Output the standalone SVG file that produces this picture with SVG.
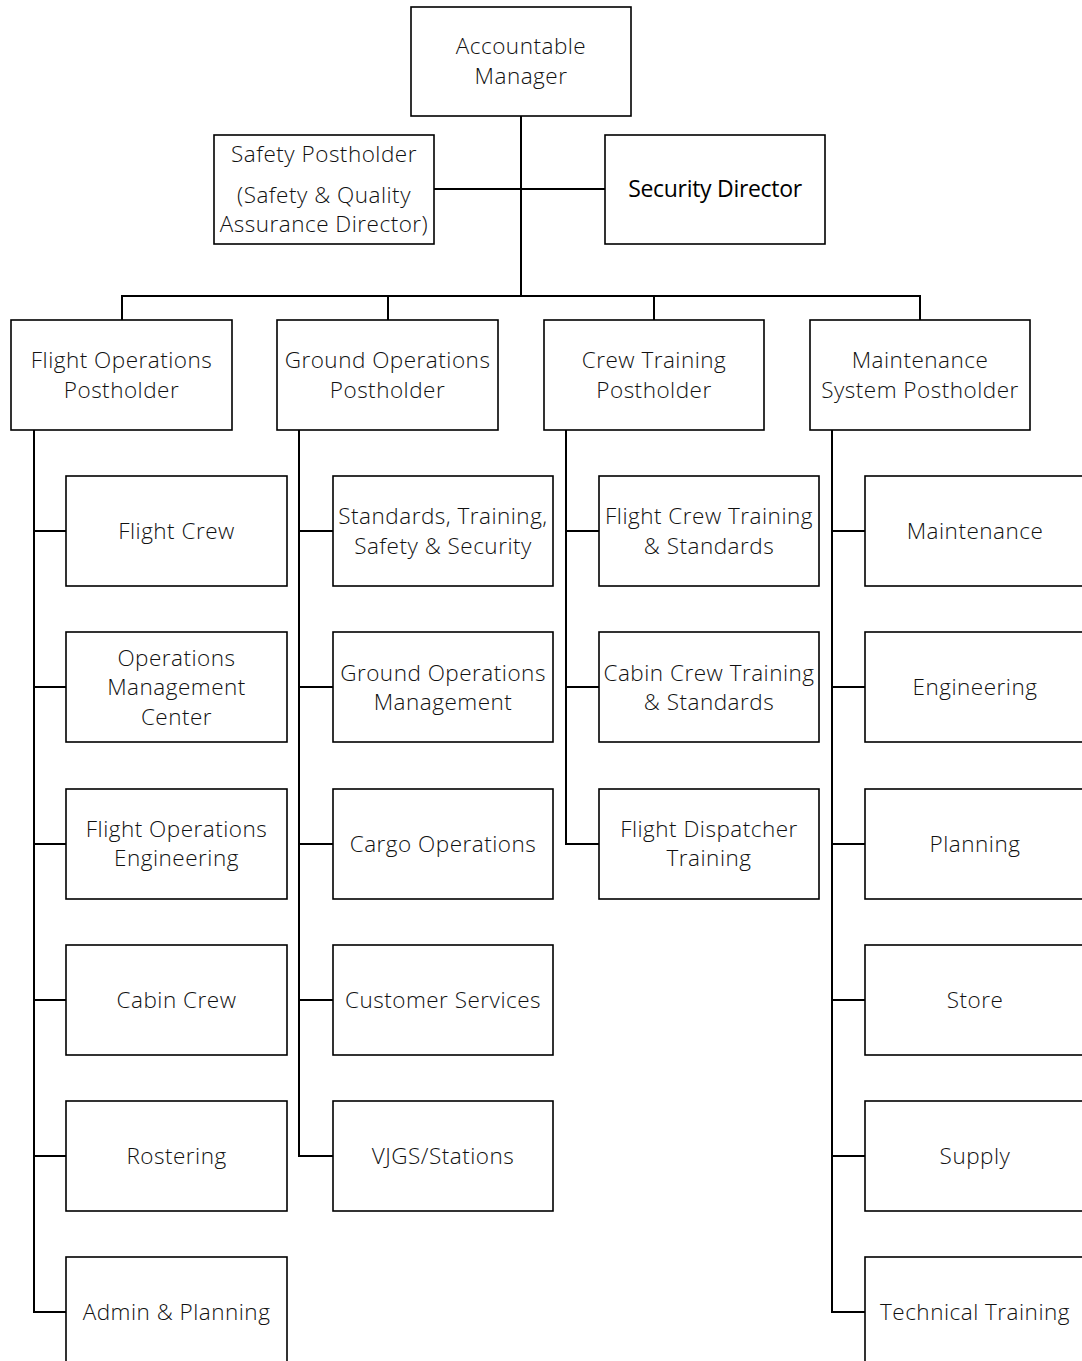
<svg xmlns="http://www.w3.org/2000/svg" width="1082" height="1361" viewBox="0 0 1082 1361">
<style>
.box{fill:#fff;stroke:#000;stroke-width:1.6}
text{font-family:"Open Sans","Noto Sans",sans-serif;font-weight:300;font-size:22.5px;letter-spacing:0.5px;fill:#111;text-anchor:middle}
text.sd{font-weight:400;font-size:23px;letter-spacing:-0.3px;fill:#000}
#connectors path{fill:none;stroke:#000;stroke-width:2}
</style>
<rect width="1082" height="1361" fill="#fff"/>
<g id="connectors">
<path d="M521 116V296M434 189H605M122 320V296H920V320M388 296V320M654 296V320"/>
<path d="M34 430V1312H66M34 531H66M34 687H66M34 844H66M34 1000H66M34 1156H66"/>
<path d="M299 430V1156H333M299 531H333M299 687H333M299 844H333M299 1000H333"/>
<path d="M566 430V844H599M566 531H599M566 687H599"/>
<path d="M832 430V1312H865M832 531H865M832 687H865M832 844H865M832 1000H865M832 1156H865"/>
</g>
<g id="accountable"><rect class="box" x="411" y="7" width="220" height="109"/><text x="521" y="54">Accountable</text><text x="521" y="84">Manager</text></g>
<g id="safety"><rect class="box" x="214" y="135" width="220" height="109"/><text x="324" y="162">Safety Postholder</text><text x="324" y="203">(Safety &amp; Quality</text><text x="324" y="232">Assurance Director)</text></g>
<g id="security"><rect class="box" x="605" y="135" width="220" height="109"/><text class="sd" x="715" y="197">Security Director</text></g>
<g id="flightops"><rect class="box" x="11" y="320" width="221" height="110"/><text x="121.5" y="368">Flight Operations</text><text x="121.5" y="398">Postholder</text></g>
<g id="groundops"><rect class="box" x="277" y="320" width="221" height="110"/><text x="387.5" y="368">Ground Operations</text><text x="387.5" y="398">Postholder</text></g>
<g id="crewtraining"><rect class="box" x="544" y="320" width="220" height="110"/><text x="654" y="368">Crew Training</text><text x="654" y="398">Postholder</text></g>
<g id="maintsys"><rect class="box" x="810" y="320" width="220" height="110"/><text x="920" y="368">Maintenance</text><text x="920" y="398">System Postholder</text></g>
<g id="flightcrew"><rect class="box" x="66" y="476" width="221" height="110"/><text x="176.5" y="539">Flight Crew</text></g>
<g id="omc"><rect class="box" x="66" y="632" width="221" height="110"/><text x="176.5" y="666">Operations</text><text x="176.5" y="695">Management</text><text x="176.5" y="725">Center</text></g>
<g id="foe"><rect class="box" x="66" y="789" width="221" height="110"/><text x="176.5" y="837">Flight Operations</text><text x="176.5" y="866">Engineering</text></g>
<g id="cabincrew"><rect class="box" x="66" y="945" width="221" height="110"/><text x="176.5" y="1008">Cabin Crew</text></g>
<g id="rostering"><rect class="box" x="66" y="1101" width="221" height="110"/><text x="176.5" y="1164">Rostering</text></g>
<g id="admin"><rect class="box" x="66" y="1257" width="221" height="110"/><text x="176.5" y="1320">Admin &amp; Planning</text></g>
<g id="stss"><rect class="box" x="333" y="476" width="220" height="110"/><text x="443" y="524">Standards, Training,</text><text x="443" y="554">Safety &amp; Security</text></g>
<g id="gom"><rect class="box" x="333" y="632" width="220" height="110"/><text x="443" y="681">Ground Operations</text><text x="443" y="710">Management</text></g>
<g id="cargo"><rect class="box" x="333" y="789" width="220" height="110"/><text x="443" y="852">Cargo Operations</text></g>
<g id="customer"><rect class="box" x="333" y="945" width="220" height="110"/><text x="443" y="1008">Customer Services</text></g>
<g id="vjgs"><rect class="box" x="333" y="1101" width="220" height="110"/><text x="443" y="1164">VJGS/Stations</text></g>
<g id="fcts"><rect class="box" x="599" y="476" width="220" height="110"/><text x="709" y="524">Flight Crew Training</text><text x="709" y="554">&amp; Standards</text></g>
<g id="ccts"><rect class="box" x="599" y="632" width="220" height="110"/><text x="709" y="681">Cabin Crew Training</text><text x="709" y="710">&amp; Standards</text></g>
<g id="fdt"><rect class="box" x="599" y="789" width="220" height="110"/><text x="709" y="837">Flight Dispatcher</text><text x="709" y="866">Training</text></g>
<g id="maintenance"><rect class="box" x="865" y="476" width="220" height="110"/><text x="975" y="539">Maintenance</text></g>
<g id="engineering"><rect class="box" x="865" y="632" width="220" height="110"/><text x="975" y="695">Engineering</text></g>
<g id="planning"><rect class="box" x="865" y="789" width="220" height="110"/><text x="975" y="852">Planning</text></g>
<g id="store"><rect class="box" x="865" y="945" width="220" height="110"/><text x="975" y="1008">Store</text></g>
<g id="supply"><rect class="box" x="865" y="1101" width="220" height="110"/><text x="975" y="1164">Supply</text></g>
<g id="techtraining"><rect class="box" x="865" y="1257" width="220" height="110"/><text x="975" y="1320">Technical Training</text></g>
</svg>
